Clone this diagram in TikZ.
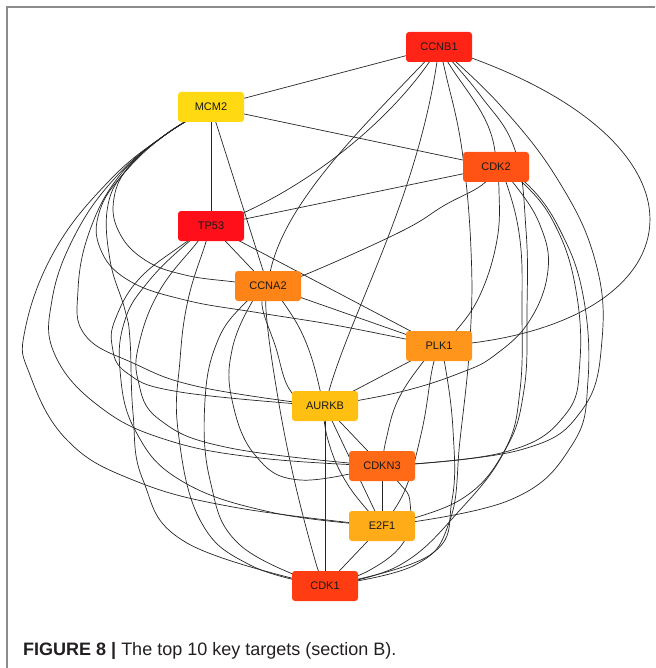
\documentclass[tikz,border=0pt]{standalone}
\usepackage{fontspec}
\setmainfont{Liberation Sans}
\usetikzlibrary{backgrounds}
\definecolor{cA}{HTML}{FF2415}
\definecolor{cB}{HTML}{FFDA12}
\definecolor{cC}{HTML}{FF5214}
\definecolor{cD}{HTML}{FF0F1A}
\definecolor{cE}{HTML}{FF8418}
\definecolor{cF}{HTML}{FF951A}
\definecolor{cG}{HTML}{FFC012}
\definecolor{cH}{HTML}{FF6A16}
\definecolor{cI}{HTML}{FFAC18}
\definecolor{cJ}{HTML}{FF3C12}
\definecolor{captxt}{HTML}{231F20}
\begin{document}
\begin{tikzpicture}[x=1pt,y=-1pt,
  gene/.style={rectangle, rounded corners=3pt, minimum width=66pt, minimum height=30pt,
    inner sep=0pt, font=\fontsize{11}{13}\selectfont, text=black!90},
  edge/.style={draw=black!85, line width=0.7pt},
  sm/.style={smooth, tension=0.7}]
\useasboundingbox (0,0) rectangle (655,668);
\draw[black!45, line width=1.3pt] (7,668) -- (7,7) -- (655,7);

\node[gene, fill=cA] (A) at (439,47)  {CCNB1};
\node[gene, fill=cB] (B) at (211,107) {MCM2};
\node[gene, fill=cC] (C) at (496,167) {CDK2};
\node[gene, fill=cD] (D) at (211,226) {TP53};
\node[gene, fill=cE] (E) at (268,286) {CCNA2};
\node[gene, fill=cF] (F) at (439,346) {PLK1};
\node[gene, fill=cG] (G) at (325,406) {AURKB};
\node[gene, fill=cH] (H) at (382,466) {CDKN3};
\node[gene, fill=cI] (I) at (382,526) {E2F1};
\node[gene, fill=cJ] (J) at (325,586) {CDK1};

\node[anchor=base west, inner sep=0pt, text=captxt, font=\fontsize{18}{22}\selectfont] (cap) at (23,655)
  {\textbf{FIGURE 8 |} The top 10 key targets (section B).};

\begin{pgfonlayer}{background}
% straight edges
\draw[edge] (A.center) -- (B.center);
\draw[edge] (B.center) -- (C.center);
\draw[edge] (B.center) -- (D.center);
\draw[edge] (B.center) -- (E.center);
\draw[edge] (C.center) -- (D.center);
\draw[edge] (D.center) -- (E.center);
\draw[edge] (D.center) -- (F.center);
\draw[edge] (E.center) -- (F.center);
\draw[edge] (F.center) -- (G.center);
\draw[edge] (G.center) -- (H.center);
\draw[edge] (H.center) -- (I.center);
\draw[edge] (I.center) -- (J.center);
\draw[edge] (G.center) -- (J.center);
\draw[edge] (G.center) -- (I.center);
% CCNB1
\draw[edge] (A.center) .. controls (465,95) and (496,115) .. (C.center);
\draw[edge] (A.center) .. controls (395,120) and (300,195) .. (D.center);
\draw[edge] (A.center) .. controls (360,130) and (275,210) .. (E.center);
\draw[edge] (A.center) .. controls (738,140) and (702,330) .. (F.center);
\draw[edge] (A.center) .. controls (420,200) and (345,320) .. (G.center);
\draw[edge] plot[sm] coordinates {(A.center) (500,105) (558,180) (595,260) (602,340) (582,410) (520,450) (H.center)};
\draw[edge] plot[sm] coordinates {(A.center) (480,95) (515,150) (526,230) (527,310) (524,390) (505,450) (460,500) (I.center)};
\draw[edge] plot[sm] coordinates {(A.center) (446,75) (462,150) (471,250) (470,340) (460,440) (450,520) (415,565) (J.center)};
% MCM2 bundle
\draw[edge] plot[sm] coordinates {(B.center) (165,135) (130,165) (114,198) (119,232) (145,260) (185,275) (235,282) (E.center)};
\draw[edge] plot[sm] coordinates {(B.center) (165,135) (125,172) (100,210) (100,248) (128,280) (185,300) (260,313) (340,326) (F.center)};
\draw[edge] plot[sm] coordinates {(B.center) (165,135) (120,175) (90,230) (78,290) (85,335) (133,363) (200,387) (G.center)};
\draw[edge] plot[sm] coordinates {(B.center) (165,135) (115,178) (75,235) (52,300) (55,355) (100,407) (167,440) (260,458) (H.center)};
\draw[edge] plot[sm] coordinates {(B.center) (165,135) (110,180) (55,250) (25,330) (30,375) (67,440) (133,480) (233,507) (I.center)};
\draw[edge] plot[sm] coordinates {(B.center) (165,135) (128,168) (108,205) (110,260) (125,310) (130,340) (133,413) (143,480) (187,543) (J.center)};
% TP53
\draw[edge] plot[sm] coordinates {(D.center) (182,245) (140,278) (117,315) (112,345) (127,373) (180,392) (G.center)};
\draw[edge] plot[sm] coordinates {(D.center) (195,245) (160,290) (140,340) (138,380) (160,420) (230,448) (H.center)};
\draw[edge] plot[sm] coordinates {(D.center) (185,245) (148,282) (125,320) (120,370) (135,430) (180,480) (270,512) (I.center)};
\draw[edge] plot[sm] coordinates {(D.center) (205,245) (188,300) (180,360) (178,430) (200,520) (250,565) (J.center)};
% CCNA2
\draw[edge] plot[sm] coordinates {(E.center) (302,276) (400,232) (445,205) (482,185) (C.center)};
\draw[edge] plot[sm] coordinates {(E.center) (262,305) (275,345) (292,393) (G.center)};
\draw[edge] plot[sm] coordinates {(E.center) (283,302) (305,340) (320,390) (328,440) (348,485) (I.center)};
\draw[edge] plot[sm] coordinates {(E.center) (266,310) (275,380) (292,470) (315,560) (J.center)};
\draw[edge] plot[sm] coordinates {(E.center) (252,302) (232,350) (232,400) (255,455) (300,480) (H.center)};
\draw[edge] plot[sm] coordinates {(E.center) (245,303) (218,340) (205,400) (210,480) (240,545) (J.center)};
% PLK1
\draw[edge] plot[sm] coordinates {(C.center) (499,190) (497,240) (480,295) (455,332) (F.center)};
\draw[edge] plot[sm] coordinates {(F.center) (423,362) (398,400) (386,440) (H.center)};
\draw[edge] plot[sm] coordinates {(F.center) (432,370) (422,430) (405,490) (I.center)};
\draw[edge] plot[sm] coordinates {(F.center) (445,365) (453,430) (452,500) (430,555) (J.center)};
% CDK2
\draw[edge] plot[sm] coordinates {(C.center) (515,185) (540,225) (548,270) (530,320) (495,355) (460,373) (400,392) (G.center)};
\draw[edge] plot[sm] coordinates {(C.center) (525,185) (555,225) (575,285) (580,360) (565,415) (505,452) (H.center)};
\draw[edge] plot[sm] coordinates {(C.center) (528,185) (560,230) (583,295) (588,380) (572,445) (510,500) (I.center)};
\draw[edge] plot[sm] coordinates {(C.center) (507,185) (520,240) (522,310) (520,390) (505,450) (460,510) (400,565) (J.center)};
% CDKN3 - CDK1
\draw[edge] plot[sm] coordinates {(H.center) (400,484) (410,502) (405,540) (370,570) (J.center)};
\end{pgfonlayer}
\end{tikzpicture}
\end{document}
